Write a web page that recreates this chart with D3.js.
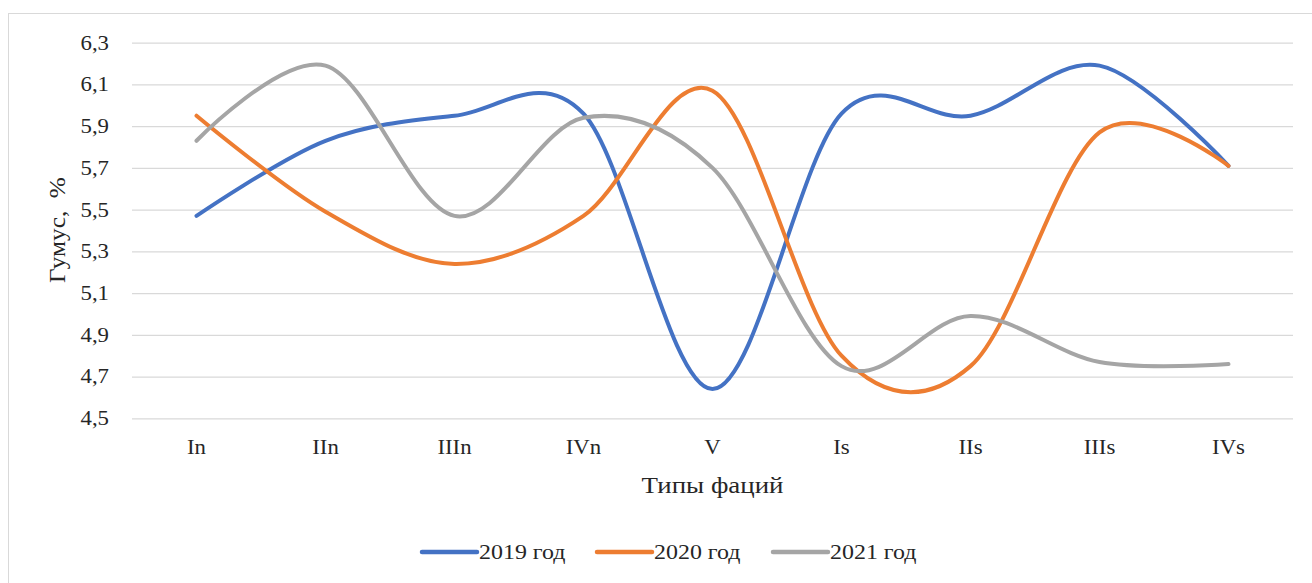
<!DOCTYPE html>
<html>
<head>
<meta charset="utf-8">
<script src="https://cdn.jsdelivr.net/npm/d3@7"></script>
<style>
  html, body { margin: 0; padding: 0; background: #fff; }
  svg { display: block; }
  svg text { font-family: "Liberation Serif", "Times New Roman", serif; }
</style>
</head>
<body>
<svg id="chart" width="1312" height="583"></svg>
<script>
// Facies types along the transect
const categories = ["In", "IIn", "IIIn", "IVn", "V", "Is", "IIs", "IIIs", "IVs"];

// Humus content, % by year
const humus2019 = [5.47, 5.83, 5.95, 5.96, 4.64, 5.96, 5.95, 6.19, 5.71];
const humus2020 = [5.95, 5.49, 5.24, 5.47, 6.07, 4.80, 4.75, 5.87, 5.71];
const humus2021 = [5.83, 6.19, 5.47, 5.94, 5.70, 4.75, 4.99, 4.77, 4.76];

const seriesNames = ["2019 год", "2020 год", "2021 год"];
const seriesColors = ["#4472C4", "#ED7D31", "#A5A5A5"];

const yTicks = [4.5, 4.7, 4.9, 5.1, 5.3, 5.5, 5.7, 5.9, 6.1, 6.3];

const series = [humus2019, humus2020, humus2021].map((values, i) => ({
  name: seriesNames[i], color: seriesColors[i], values
}));

const svg = d3.select("#chart");
const W = 1312, H = 583;
const plot = { left: 132, right: 1293, top: 42.7, bottom: 418.3 };
const textColor = "#262626";
const stretch = 1.14; // glyphs are set slightly wide

// chart frame
svg.append("rect")
  .attr("x", 8.5).attr("y", 13.5)
  .attr("width", W + 10).attr("height", H + 10)
  .attr("fill", "#fff").attr("stroke", "#D9D9D9").attr("stroke-width", 1);

const x = d3.scaleBand().domain(categories).range([plot.left, plot.right]);
const y = d3.scaleLinear().domain([4.5, 6.3]).range([plot.bottom, plot.top]);

// horizontal gridlines + value labels
const yAxis = d3.axisLeft(y)
  .tickValues(yTicks)
  .tickSize(-(plot.right - plot.left))
  .tickPadding(23 / stretch)
  .tickFormat(d => d3.format(".1f")(d).replace(".", ","));

const gy = svg.append("g")
  .attr("transform", `translate(${plot.left},0)`)
  .call(yAxis)
  .attr("font-family", null);
gy.select(".domain").remove();
gy.selectAll(".tick line").attr("stroke", "#D9D9D9").attr("stroke-width", 1.3);
gy.selectAll(".tick text")
  .attr("fill", textColor)
  .attr("transform", `scale(${stretch},1)`)
  .style("font-size", "20px");

// category labels
const xAxis = d3.axisBottom(x).tickSize(0).tickPadding(22);
const gx = svg.append("g")
  .attr("transform", `translate(0,${plot.bottom})`)
  .call(xAxis)
  .attr("font-family", null);
gx.select(".domain").remove();
gx.selectAll(".tick text")
  .attr("fill", textColor)
  .attr("transform", `scale(${stretch},1)`)
  .style("font-size", "20px");

// smoothed series lines
const line = d3.line()
  .x((d, i) => x(categories[i]) + x.bandwidth() / 2)
  .y(d => y(d))
  .curve(d3.curveCatmullRom.alpha(0));

svg.append("g").selectAll("path")
  .data(series)
  .join("path")
  .attr("d", d => line(d.values))
  .attr("fill", "none")
  .attr("stroke", d => d.color)
  .attr("stroke-width", 4)
  .attr("stroke-linecap", "round")
  .attr("stroke-linejoin", "round");

// axis titles
svg.append("text")
  .attr("transform", `translate(${(plot.left + plot.right) / 2},493) scale(1.17,1)`)
  .attr("text-anchor", "middle")
  .attr("fill", textColor)
  .style("font-size", "23px")
  .text("Типы фаций");

svg.append("text")
  .attr("transform", "translate(65,230) rotate(-90) scale(1.1,1)")
  .attr("text-anchor", "middle")
  .attr("fill", textColor)
  .style("font-size", "23px")
  .style("white-space", "pre")
  .text("Гумус,  %");

// legend
const legendX = [422, 597, 773];
const legend = svg.append("g").selectAll("g")
  .data(series)
  .join("g")
  .attr("transform", (d, i) => `translate(${legendX[i]},552)`);
legend.append("line")
  .attr("x1", 0).attr("x2", 55)
  .attr("stroke", d => d.color)
  .attr("stroke-width", 4.5)
  .attr("stroke-linecap", "round");
legend.append("text")
  .attr("transform", `translate(57,7) scale(${stretch},1)`)
  .attr("fill", textColor)
  .style("font-size", "21px")
  .text(d => d.name);
</script>
</body>
</html>
